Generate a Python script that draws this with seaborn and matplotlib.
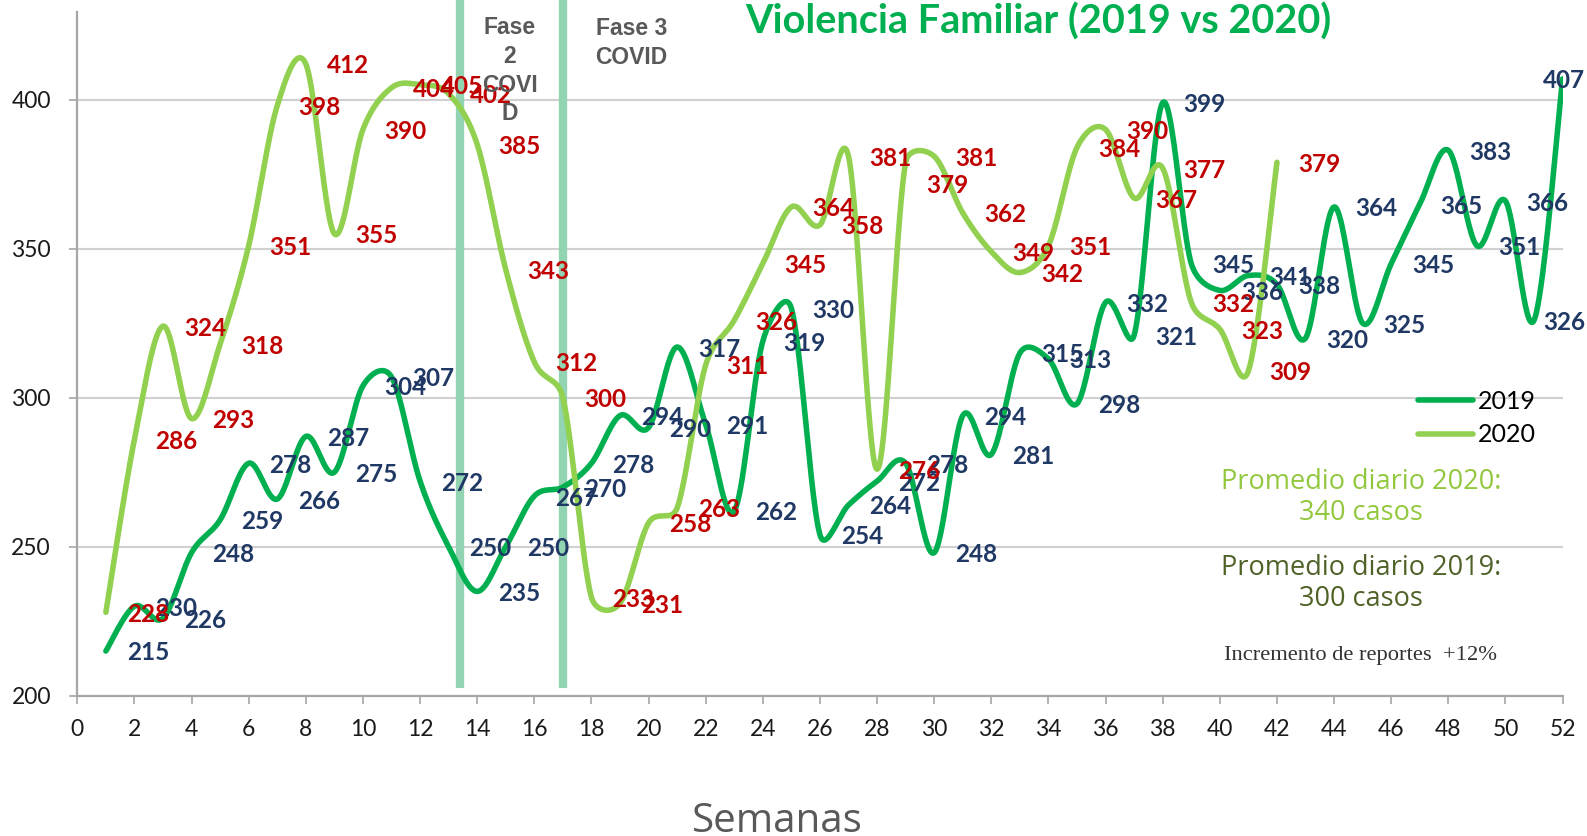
import numpy as np
import pandas as pd
import matplotlib
matplotlib.use("Agg")
import matplotlib.pyplot as plt
import seaborn as sns

# ---------------- data ----------------
weeks_2019 = list(range(1, 53))
values_2019 = [215, 230, 226, 248, 259, 278, 266, 287, 275, 304, 307, 272, 250, 235,
               250, 267, 270, 278, 294, 290, 317, 291, 262, 319, 330, 254, 264, 272,
               278, 248, 294, 281, 315, 313, 298, 332, 321, 399, 345, 336, 341, 338,
               320, 364, 325, 345, 365, 383, 351, 366, 326, 407]
weeks_2020 = list(range(1, 43))
values_2020 = [228, 286, 324, 293, 318, 351, 398, 412, 355, 390, 404, 405, 402, 385,
               343, 312, 300, 233, 231, 258, 263, 311, 326, 345, 364, 358, 381, 276,
               379, 381, 362, 349, 342, 351, 384, 390, 367, 377, 332, 323, 309, 379]
phase_weeks = [13.4, 17.0]
x_ticks = list(range(0, 53, 2))
y_ticks = [200, 250, 300, 350, 400]

title = "Violencia Familiar (2019 vs 2020)"
phase_labels = ["Fase\n2\nCOVI\nD", "Fase 3\nCOVID"]
note_2020 = "Promedio diario 2020:\n340 casos"
note_2019 = "Promedio diario 2019:\n300 casos"
note_inc = "Incremento de reportes  +12%"

C19 = "#00b050"
C20 = "#92d050"
L19 = "#1f3864"
L20 = "#c00000"

df19 = pd.DataFrame({"semana": weeks_2019, "casos": values_2019})
df20 = pd.DataFrame({"semana": weeks_2020, "casos": values_2020})

# pixel scale of the plot (used only for the curve smoothing shape)
PX_X = 28.55   # px per week
PX_Y = 2.98    # px per case


def excel_smooth(x, y, n=40):
    """Bezier smoothing like Excel's smoothed line (control arms capped)."""
    P = np.column_stack([np.asarray(x, float) * PX_X, np.asarray(y, float) * PX_Y])
    E = np.vstack([P[0], P, P[-1]])
    t = np.linspace(0, 1, n, endpoint=False)[:, None]
    segs = []
    for i in range(len(P) - 1):
        p0, p1, p2, p3 = E[i], E[i + 1], E[i + 2], E[i + 3]
        half = np.linalg.norm(p2 - p1) / 2.0
        v1 = (p2 - p0) / 6.0
        v2 = (p3 - p1) / 6.0
        n1, n2 = np.linalg.norm(v1), np.linalg.norm(v2)
        if n1 > half and n1 > 0:
            v1 = v1 * half / n1
        if n2 > half and n2 > 0:
            v2 = v2 * half / n2
        c1 = p1 + v1
        c2 = p2 - v2
        segs.append((1 - t) ** 3 * p1 + 3 * (1 - t) ** 2 * t * c1
                    + 3 * (1 - t) * t ** 2 * c2 + t ** 3 * p2)
    segs.append(P[-1][None, :])
    S = np.vstack(segs)
    return pd.DataFrame({"semana": S[:, 0] / PX_X, "casos": S[:, 1] / PX_Y})


sns.set_theme(style="white")
plt.rcParams["font.family"] = ["Lato", "DejaVu Sans"]

W, H = 1587, 836
fig = plt.figure(figsize=(W / 100, H / 100), dpi=100)
ax = fig.add_axes([77.3 / W, 1 - 695.7 / H, (1562.6 - 77.3) / W, 684.0 / H])

for wk in phase_weeks:
    ax.axvline(wk, ymin=0.011, ymax=1.017, color="#92d4b1", lw=6.0, zorder=1,
               clip_on=False, solid_capstyle="butt")

s19 = excel_smooth(df19["semana"], df19["casos"])
s20 = excel_smooth(df20["semana"], df20["casos"])
LW = 4.0
sns.lineplot(data=s19, x="semana", y="casos", ax=ax, color=C19, lw=LW,
             sort=False, estimator=None, label="2019", zorder=3,
             solid_capstyle="round")
sns.lineplot(data=s20, x="semana", y="casos", ax=ax, color=C20, lw=LW,
             sort=False, estimator=None, label="2020", zorder=4,
             solid_capstyle="round")

ax.set_xlim(0, 52)
ax.set_ylim(200, 200 + 684.0 / 2.98)
ax.set_xticks(x_ticks)
ax.set_yticks(y_ticks)
ax.set_xticklabels([str(v) for v in x_ticks])
ax.set_yticklabels([str(v) for v in y_ticks])
ax.set_xlabel("")
ax.set_ylabel("")
for sp in ["top", "right"]:
    ax.spines[sp].set_visible(False)
for sp in ["left", "bottom"]:
    ax.spines[sp].set_color("#a6a6a6")
    ax.spines[sp].set_linewidth(1.6)
ax.yaxis.grid(True, color="#d0d0d0", lw=1.5)
ax.xaxis.grid(False)
ax.set_axisbelow(True)
ax.tick_params(axis="both", direction="out", length=6, width=1.2,
               color="#a6a6a6", labelsize=16.5, labelcolor="#1a1a1a")
ax.tick_params(axis="y", pad=13)
ax.tick_params(axis="x", pad=11)
ax.tick_params(bottom=True, left=True)

# data labels (to the right of each point); a few nudged like the reference
nudge_2020 = {29: -7}
LBL = 17.5
for wk, v in zip(df19["semana"], df19["casos"]):
    ax.text(min(wk + 1.47, 52.05), v, str(v), ha="center", va="center_baseline",
            color=L19, fontsize=LBL, fontweight="bold", zorder=6, clip_on=False)
for wk, v in zip(df20["semana"], df20["casos"]):
    ax.text(min(wk + 1.47, 52.05), v + nudge_2020.get(wk, 0), str(v),
            ha="center", va="center_baseline",
            color=L20, fontsize=LBL, fontweight="bold", zorder=7, clip_on=False)

leg = ax.legend(loc="upper left", bbox_to_anchor=(1418 / W, 1 - 390 / H),
                bbox_transform=fig.transFigure, frameon=False, fontsize=18,
                handlelength=2.2, handletextpad=0.2, labelspacing=0.42,
                borderpad=0, borderaxespad=0)
for t in leg.get_texts():
    t.set_color("black")
for h in leg.get_lines():
    h.set_linewidth(LW)


def fy(y):
    return 1 - y / H


# va="baseline" on multi-line text anchors the last line's baseline
fig.text(1038 / W, fy(33.3), title, ha="center", va="baseline", color=C19,
         fontsize=28.5, fontweight="bold")
fig.text(510 / W, fy(120.5), phase_labels[0], ha="center", va="baseline",
         color="#595959", fontsize=16.5, fontweight="bold",
         family=["Liberation Sans", "DejaVu Sans"], linespacing=1.33)
fig.text(631.7 / W, fy(63.5), phase_labels[1], ha="center", va="baseline",
         color="#595959", fontsize=16.5, fontweight="bold",
         family=["Liberation Sans", "DejaVu Sans"], linespacing=1.33)
fig.text(1361 / W, fy(519.5), note_2020, ha="center", va="baseline",
         color="#92c83e", fontsize=19.5, family=["Open Sans", "DejaVu Sans"],
         linespacing=1.1)
fig.text(1361 / W, fy(605.5), note_2019, ha="center", va="baseline",
         color="#4f6228", fontsize=19.5, family=["Open Sans", "DejaVu Sans"],
         linespacing=1.1)
fig.text(1360 / W, fy(660), note_inc, ha="center", va="baseline",
         color="#333333", fontsize=16.2, family=["Liberation Serif", "DejaVu Serif"])
fig.text(777 / W, fy(832.5), "Semanas", ha="center", va="baseline",
         color="#595959", fontsize=29, family=["Open Sans", "DejaVu Sans"])

fig.savefig("out.png", dpi=100)
